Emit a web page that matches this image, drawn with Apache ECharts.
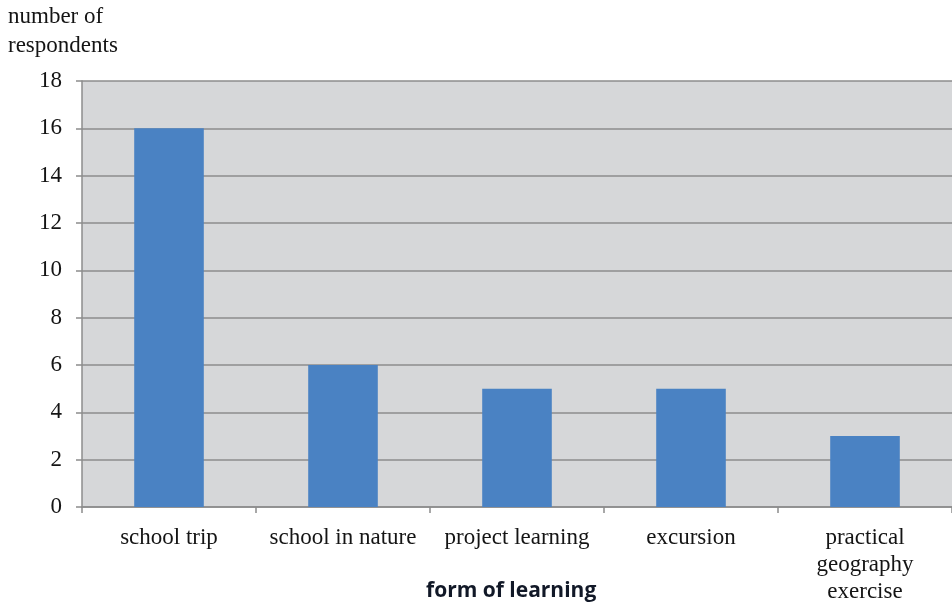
<!DOCTYPE html>
<html>
<head>
<meta charset="utf-8">
<script src="https://cdn.jsdelivr.net/npm/echarts@6/dist/echarts.min.js"></script>
<style>
  html, body { margin: 0; padding: 0; background: #ffffff; }
  #chart { width: 952px; height: 610px; }
</style>
</head>
<body>
<div id="chart"></div>
<script>
// Forms of learning and how many respondents chose each one
const categories = ['school trip', 'school in nature', 'project learning', 'excursion', 'practical geography exercise'];
const respondents = [16, 6, 5, 5, 3];
const yTicks = [0, 2, 4, 6, 8, 10, 12, 14, 16, 18];

const serif = '"Liberation Serif", "Times New Roman", serif';
const axisGray = '#8c8c8c';
const textColor = '#141414';

const chart = echarts.init(document.getElementById('chart'));
chart.setOption({
  animation: false,
  backgroundColor: '#ffffff',
  grid: { left: 82, top: 81, right: 0, bottom: 103, show: true, backgroundColor: '#d6d7d9', borderWidth: 0 },
  xAxis: {
    type: 'category',
    data: categories,
    axisLine: { show: true, lineStyle: { color: axisGray, width: 1.5 } },
    axisTick: { show: true, length: 6, alignWithLabel: false, lineStyle: { color: axisGray, width: 1.5 } },
    axisLabel: {
      interval: 0,
      margin: 17,
      color: textColor,
      fontFamily: serif,
      fontSize: 23,
      lineHeight: 27,
      formatter: v => v.length > 20 ? v.split(' ').join('\n') : v
    }
  },
  yAxis: {
    type: 'value',
    min: yTicks[0],
    max: yTicks[yTicks.length - 1],
    interval: 2,
    axisLine: { show: true, lineStyle: { color: axisGray, width: 1.5 } },
    axisTick: { show: true, length: 6, lineStyle: { color: axisGray, width: 1.5 } },
    splitLine: { show: true, lineStyle: { color: axisGray, width: 1.5 } },
    axisLabel: { margin: 20, color: textColor, fontFamily: serif, fontSize: 23 }
  },
  series: [{
    type: 'bar',
    data: respondents,
    barWidth: '40%',
    itemStyle: { color: '#4a82c3' }
  }],
  graphic: [
    {
      type: 'text', left: 8, top: 2,
      style: { text: 'number of\nrespondents', fill: textColor, font: '23px ' + serif, lineHeight: 29 }
    },
    {
      type: 'text', left: 426, top: 581,
      style: { text: 'form of learning', fill: '#111827', font: 'bold 21px "Open Sans", "Noto Sans", sans-serif' }
    }
  ]
});
</script>
</body>
</html>
